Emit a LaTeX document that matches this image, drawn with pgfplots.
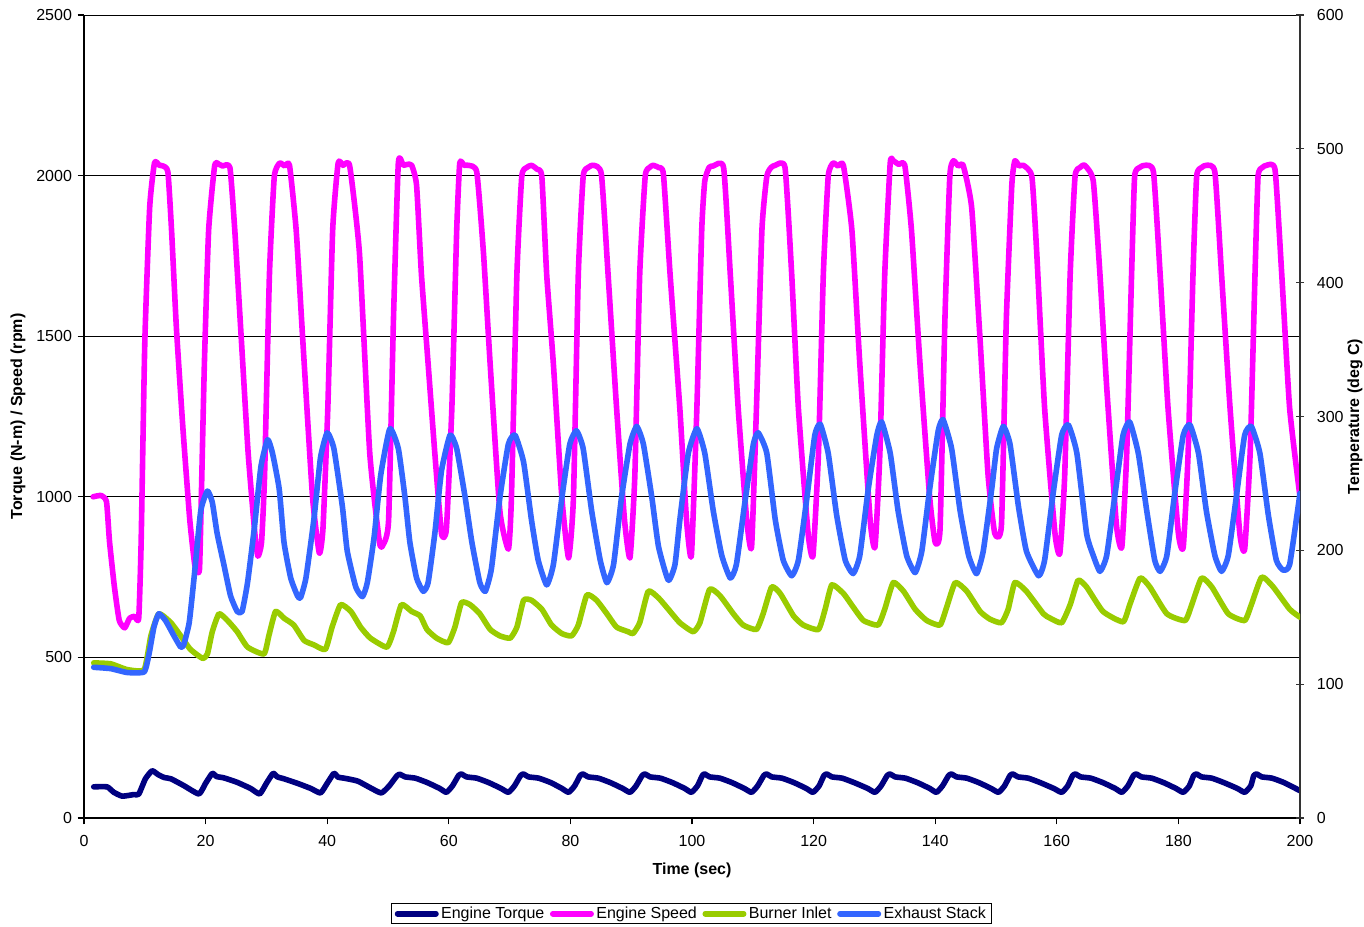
\documentclass[border=0pt]{standalone}
\usepackage{fontspec}
\setmainfont{Liberation Sans}
\usepackage{pgfplots}
\pgfplotsset{compat=1.18}

\definecolor{torque}{HTML}{000080}
\definecolor{speed}{HTML}{FF00FF}
\definecolor{burner}{HTML}{99CC00}
\definecolor{exhaust}{HTML}{3366FF}

\pgfplotsset{
  base/.style={scale only axis, width=760pt, height=501.875pt,
    xmin=0, xmax=200,
    ticklabel style={font=\fontsize{10}{12}\selectfont},
    label style={font=\bfseries\fontsize{10}{12}\selectfont},
    /pgf/number format/assume math mode=true,
    /pgf/number format/1000 sep={},
    scaled ticks=false},
  ser/.style={line width=3.5pt, line join=round, line cap=round, smooth, tension=0.3, #1},
}

\begin{document}
\begin{tikzpicture}
\useasboundingbox (-52.5pt,-68.125pt) rectangle (800pt,511.25pt);

% left axis: torque and speed
\begin{axis}[base,
  ymin=0, ymax=2500, ytick={0,500,...,2500}, xtick={0,20,...,200},
  axis x line*=bottom, axis y line*=left,
  axis line style={black, line width=0.8pt},
  tick align=outside, major tick length=4pt,
  tick style={black, line width=0.8pt},
  ymajorgrids, grid style={black, line width=0.6pt},
  xticklabel style={yshift=-3pt},
  xlabel={Time (sec)},
  xlabel style={at={(axis description cs:0.5,-0.0648)}, anchor=center},
  ylabel={Torque (N-m) / Speed (rpm)},
  ylabel style={at={(axis description cs:-0.0543,0.5)}, anchor=center},
]
\addplot[ser=torque] coordinates {
(1.6,97) (3.8,97) (4.9,80) (6.3,68) (8.2,73) (9.0,74) (10.1,122) (11.2,147)
(12.2,135) (13.2,126) (14.3,122) (16.4,101) (18.9,75)
(20.0,108) (21.1,139) (21.8,129) (23.0,125) (25.2,111) (27.4,92) (28.9,75)
(30.0,108) (31.1,139) (31.8,128) (32.9,122) (35.1,108) (37.3,92) (38.9,78)
(40.0,108) (41.1,139) (41.8,127) (42.8,124) (45.0,115) (47.1,94) (48.9,78)
(50.2,100) (51.5,132) (52.0,136) (52.8,128) (54.5,124) (56.5,110) (58.5,92) (59.6,80)
(60.6,100) (61.6,132) (62.1,137) (62.9,128) (64.6,124) (66.6,110) (68.6,92) (69.8,80)
(70.8,100) (71.8,132) (72.3,137) (73.1,128) (74.8,124) (76.8,110) (78.6,92) (79.7,80)
(80.7,100) (81.6,132) (82.1,137) (82.9,128) (84.6,124) (86.6,110) (88.6,92) (89.8,80)
(90.8,100) (91.8,132) (92.3,137) (93.1,128) (94.8,124) (96.8,110) (98.8,92) (99.9,80)
(100.9,100) (101.7,132) (102.1,137) (102.9,128) (104.6,124) (106.6,110) (108.6,92) (109.8,80)
(110.8,100) (111.8,132) (112.3,137) (113.1,128) (114.8,124) (116.8,110) (118.8,92) (119.9,80)
(120.9,100) (121.7,132) (122.2,137) (123.0,128) (124.7,124) (126.7,110) (128.9,92) (130.1,80)
(131.1,100) (132.1,132) (132.6,137) (133.4,128) (135.1,124) (137.1,110) (139.1,92) (140.2,80)
(141.2,100) (142.2,132) (142.7,137) (143.5,128) (145.2,124) (147.2,110) (149.2,92) (150.4,80)
(151.4,100) (152.3,132) (152.8,137) (153.6,128) (155.3,124) (157.3,110) (159.5,92) (160.8,80)
(161.8,100) (162.6,132) (163.1,137) (163.9,128) (165.6,124) (167.6,110) (169.6,92) (170.7,80)
(171.7,100) (172.6,132) (173.1,137) (173.9,128) (175.6,124) (177.6,110) (179.6,92) (180.8,80)
(181.8,100) (182.5,132) (183.0,137) (183.8,128) (185.5,124) (187.5,110) (189.7,92) (190.9,80)
(191.9,100) (192.4,132) (192.9,137) (193.7,128) (195.4,124) (197.4,110) (200,85)
};
\addplot[ser=speed] coordinates {
(1.5,1000) (2.8,1004) (3.7,985) (4.2,860) (5.0,720) (5.8,615) (6.7,592) (7.5,622)
(8.3,628) (9.0,622) (9.4,860) (10.0,1480) (10.8,1900) (11.6,2040) (12.4,2032)
(13.0,2030) (13.8,2011) (14.4,1830) (15.2,1525) (16.3,1205) (17.4,928) (18.2,790)
(18.6,768) (19.0,775) (19.3,1000) (19.8,1414) (20.5,1830) (21.5,2032) (22.2,2035)
(22.8,2030) (24.0,2025) (24.8,1830) (25.9,1483) (27.0,1136) (28.1,886) (28.6,815)
(29.2,858) (29.7,1067) (30.5,1692) (31.3,1997) (32.2,2039) (33.0,2030) (33.8,2032)
(34.9,1830) (36.0,1483) (37.6,997) (38.7,825) (39.3,900) (40.1,1275) (40.9,1830)
(41.8,2039) (42.6,2032) (43.7,2030) (45.3,1760) (47.0,1136) (48.6,858) (49.2,851)
(50.1,928) (50.9,1553) (51.7,2039) (52.5,2032) (53.2,2035) (53.9,2032) (54.7,1970)
(55.5,1692) (56.6,1414) (57.7,1136) (58.8,886) (59.6,900) (60.5,1275) (61.3,1830)
(61.8,2039) (62.5,2032) (63.2,2032) (64.6,2011) (65.7,1760) (66.8,1414) (68.4,956)
(69.8,837) (70.3,997) (71.2,1692) (72.0,1997) (72.8,2025) (73.6,2032) (74.5,2020)
(75.3,1997) (76.1,1692) (77.2,1414) (78.6,997) (79.7,810) (80.5,997) (81.3,1692)
(82.1,1997) (82.9,2025) (83.8,2032) (85.1,2004) (86.2,1692) (87.6,1275) (88.9,928)
(89.8,810) (90.6,1067) (91.4,1692) (92.3,1997) (93.0,2025) (93.6,2032) (94.5,2025)
(95.3,2004) (96.4,1692) (98.0,1275) (99.1,928) (99.9,817) (100.8,1275) (101.6,1830)
(102.1,1983) (102.8,2025) (103.5,2030) (105.2,2025) (106.3,1692) (107.6,1275)
(109.0,928) (109.8,844) (110.6,1275) (111.5,1830) (112.3,1997) (113.0,2025)
(113.7,2032) (115.3,2025) (116.4,1692) (117.5,1275) (119.1,886) (119.9,817)
(120.8,1136) (121.6,1692) (122.4,1997) (123.2,2039) (124.0,2030) (124.9,2032)
(126.3,1830) (127.6,1414) (129.3,928) (130.1,844) (130.9,1136) (131.7,1692)
(132.6,2039) (133.1,2046) (134.0,2035) (135.0,2032) (136.1,1830) (137.5,1414)
(139.1,997) (140.0,858) (140.8,900) (141.6,1553) (142.4,1997) (143.0,2046)
(143.8,2030) (144.6,2032) (146.0,1900) (147.4,1483) (148.7,1067) (149.8,886)
(150.9,914) (151.7,1553) (152.6,1970) (153.1,2046) (153.8,2030) (154.5,2032)
(155.9,1997) (156.7,1760) (158.0,1275) (159.7,886) (160.5,824) (161.3,1067)
(162.2,1692) (163.0,1997) (163.8,2025) (164.6,2032) (166.0,1983) (167.1,1692)
(168.2,1344) (169.8,914) (170.7,844) (171.5,1136) (172.3,1692) (172.8,1997)
(173.6,2025) (174.5,2032) (175.9,2011) (177.0,1692) (178.3,1275) (180.0,886)
(180.8,844) (181.6,1136) (182.4,1692) (183.0,1997) (183.8,2025) (184.6,2032)
(186.0,2011) (187.1,1692) (188.5,1275) (190.1,886) (190.9,837) (191.8,1136)
(192.6,1692) (193.1,1997) (193.8,2025) (194.5,2032) (195.9,2018) (197.0,1692)
(198.3,1275) (200,1000)
};
\end{axis}

% right axis: temperatures
\begin{axis}[base,
  ymin=0, ymax=600, ytick={0,100,...,600},
  axis x line=none, axis y line*=right,
  axis line style={black!80, line width=0.8pt},
  tick align=center, major tick length=5pt,
  tick style={black!80, line width=0.8pt},
  yticklabel style={xshift=4.5pt},
  ylabel={Temperature (deg C)},
  ylabel style={at={(axis description cs:1.0452,0.5)}, anchor=center},
  legend columns=4,
  legend cell align=left,
  legend image code/.code={\draw[#1] (0pt,0pt) -- (24pt,0pt);},
  legend style={at={(0.4996,-0.1059)}, anchor=north, draw=black,
    line width=0.6pt, font=\fontsize{10}{12}\selectfont,
    inner xsep=2pt, inner ysep=1pt,
    nodes={inner xsep=1.5pt, inner ysep=1pt},
    /tikz/every even column/.append style={column sep=2pt}},
]
\addlegendimage{ser=torque}
\addlegendimage{ser=speed}
\addplot[ser=burner] coordinates {
(1.6,115.9) (4.4,115.2) (7.1,110.9) (9.9,110.9) (11.0,136.1) (12.3,152.6)
(14.3,145.9) (15.9,136.1) (17.5,126) (19.5,119.3) (20.3,122.6) (21.1,139.2)
(22.2,152.6) (23.6,147.6) (25.2,139.2) (26.9,127.7) (29.6,122.6) (30.4,136.1)
(31.5,154.3) (32.9,149.3) (34.5,144.2) (36.2,132.7) (37.8,129.4) (39.7,126)
(40.8,142.6) (42.2,159.4) (43.9,154.3) (45.5,142.6) (47.1,134.4) (49.8,127.7)
(50.9,139.2) (52.2,159.4) (53.9,154.3) (55.3,151) (56.4,140.9) (58.0,134.4)
(59.9,131) (61.0,142.6) (62.1,161) (63.5,159.4) (65.1,152.6) (66.8,140.9)
(68.4,136.1) (70.1,134.4) (71.2,142.6) (72.3,162.7) (73.6,162.7) (75.3,156)
(76.9,144.2) (78.6,137.8) (80.2,136.1) (81.3,144.2) (82.7,166.6) (84.3,162.7)
(86.0,152.6) (87.6,142.6) (89.5,139.2) (90.3,137.8) (91.4,145.9) (92.8,169.4)
(94.5,164.4) (96.1,156) (98.0,145.9) (100.2,139.2) (101.3,145.9) (102.9,170.9)
(104.6,166.1) (106.8,152.6) (108.4,144.2) (110.6,140.9) (111.7,152.6) (113.1,172.6)
(114.5,167.8) (116.7,151) (118.3,144.2) (120.8,140.9) (121.9,156) (123.0,174.2)
(124.9,167.8) (126.5,157.7) (128.2,147.6) (130.6,144.2) (131.7,156) (133.1,175.9)
(134.8,169.4) (136.7,156) (138.6,147.6) (140.8,144.2) (141.9,157.7) (143.3,175.9)
(145.2,169.4) (147.4,154.3) (149.0,148.6) (150.9,145.9) (152.0,156) (153.1,175.9)
(155.0,169.4) (157.8,152.6) (158.9,149.3) (160.8,145.9) (162.2,159.4) (163.5,177.6)
(164.9,172.6) (167.6,154.3) (170.9,146.6) (172.0,159.4) (173.7,179.3) (175.3,172.6)
(178.1,152.6) (181.1,147.6) (182.2,159.4) (183.8,179.3) (185.5,172.6) (188.2,152.6)
(190.9,147.6) (192.0,159.4) (193.7,180) (195.6,172.6) (198.3,156) (200,150)
};
\addplot[ser=exhaust] coordinates {
(1.6,112.6) (4.4,111.6) (7.1,108.7) (9.9,109.2) (10.7,122.6) (11.5,142.6)
(12.3,152.6) (13.4,147.6) (14.8,136.1) (15.9,127.7) (16.4,129.4) (17.3,145.9)
(18.1,179.3) (19.2,229.4) (20.3,244.3) (21.1,235.9) (21.9,212.6) (23.0,189.4)
(24.1,166.1) (25.2,154.3) (26.0,154.3) (26.9,175.9) (28.0,216) (29.1,262.6)
(30.2,282.7) (31.0,272.6) (32.1,246) (32.9,205.9) (34.0,179.3) (35.1,166.1)
(35.6,164.4) (36.5,179.3) (37.8,222.7) (38.9,269.3) (40.0,287.8) (41.1,276)
(42.5,232.6) (43.3,199.4) (44.7,172.6) (45.8,165.4) (46.6,175.9) (47.7,209.3)
(48.8,256.1) (50.3,290.9) (51.7,276) (52.8,239.3) (53.6,205.9) (54.7,179.3)
(55.8,169.4) (56.6,175.9) (57.7,212.6) (58.8,259.4) (60.2,286.1) (61.3,276)
(62.7,239.3) (63.8,205.9) (65.1,175.9) (66.0,169.4) (67.0,186) (68.4,239.3)
(69.8,279.4) (70.9,286.1) (72.3,265.9) (73.6,222.7) (74.7,192.7) (76.1,174.2)
(77.2,189.4) (78.6,239.3) (79.9,279.4) (81.0,289.4) (82.1,276) (83.5,229.4)
(84.9,192.7) (86.0,175.9) (87.1,189.4) (88.4,239.3) (89.8,279.4) (90.9,292.6)
(92.0,279.4) (93.4,239.3) (94.5,202.6) (96.1,177.6) (97.2,189.4) (98.0,222.7)
(99.4,272.6) (100.8,290.9) (102.1,272.6) (103.5,229.4) (104.9,196.1) (106.3,179.3)
(107.3,189.4) (108.7,235.9) (110.1,279.4) (110.9,287.8) (112.3,272.6) (113.7,222.7)
(115.0,192.7) (116.4,181) (117.5,192.7) (118.9,239.3) (120.2,286.1) (121.1,294.2)
(122.4,272.6) (123.8,226.1) (125.2,192.7) (126.5,182.6) (127.6,196.1) (129.0,246)
(130.4,286.1) (131.2,295.9) (132.6,272.6) (133.9,229.4) (135.3,196.1) (136.7,183.4)
(137.8,199.4) (139.1,246) (140.5,289.4) (141.3,297.6) (142.7,276) (144.1,229.4)
(145.5,196.1) (146.8,182.6) (147.9,199.4) (149.3,246) (150.1,276) (151.2,292.6)
(152.3,279.4) (153.7,232.6) (155.0,199.4) (157.0,181) (158.0,192.7) (159.4,242.6)
(160.8,286.1) (161.9,293.8) (163.3,272.6) (164.9,212.6) (166.0,196.1) (167.1,184.3)
(168.2,196.1) (169.6,242.6) (170.9,286.1) (172.0,295.9) (173.4,272.6) (174.8,229.4)
(176.1,192.7) (177.0,184.3) (178.1,196.1) (179.4,242.6) (180.8,286.1) (181.9,293.8)
(183.3,272.6) (184.6,229.4) (186.0,196.1) (187.1,184.3) (188.2,196.1) (189.6,242.6)
(190.9,286.1) (192.0,292.6) (193.4,272.6) (194.8,226.1) (196.1,192.7) (197.2,185.3)
(198.3,189.4) (200,242.6)
};
\legend{Engine Torque, Engine Speed, Burner Inlet, Exhaust Stack}
\end{axis}
\end{tikzpicture}
\end{document}
